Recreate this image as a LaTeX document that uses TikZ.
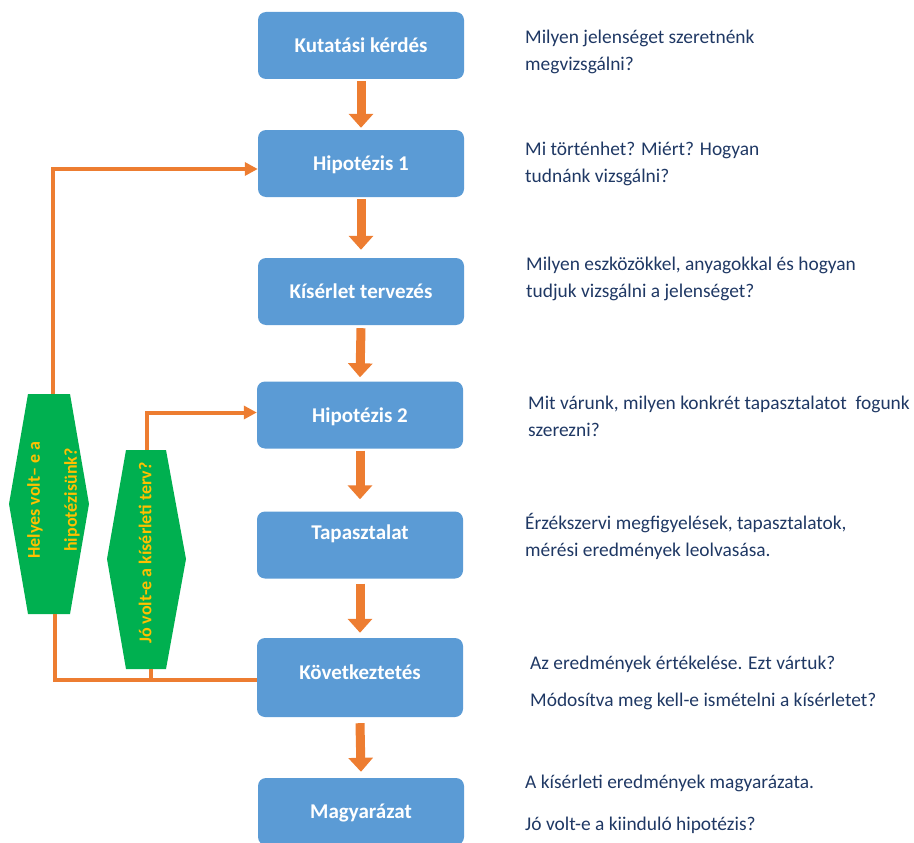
\documentclass[tikz,border=0pt]{standalone}
\usepackage{fontspec}
\setmainfont{Carlito}
\usetikzlibrary{arrows.meta}
\definecolor{boxblue}{HTML}{5B9BD5}
\definecolor{arrorange}{HTML}{ED7D31}
\definecolor{hexgreen}{HTML}{00B050}
\definecolor{hexgold}{HTML}{FFC000}
\definecolor{navy}{HTML}{1F3864}
\begin{document}
\begin{tikzpicture}[x=1pt,y=-1pt,
  stepbox/.style={fill=boxblue, rounded corners=8pt, minimum width=206pt, minimum height=67pt,
    inner sep=0pt, text=white, font=\fontsize{21}{24}\selectfont\bfseries, text height=14pt, text depth=0pt},
  blockarrow/.style={draw=arrorange, line width=9pt, -{Triangle[width=24pt,length=14pt]}},
  fbline/.style={draw=arrorange, line width=4pt},
  fbarrow/.style={fbline, -{Triangle[width=13pt,length=13pt]}},
  note/.style={anchor=west, align=left, text=navy, font=\fontsize{19.4}{27}\selectfont, inner sep=0pt},
  hexshape/.style={fill=hexgreen},
  hextext/.style={text=hexgold, font=\fontsize{18}{37}\selectfont\bfseries, rotate=90, align=center, inner sep=0pt}
]
\useasboundingbox (0,0) rectangle (914,843);
\clip (0,0) rectangle (914,843);

% main boxes
\node[stepbox] (k1) at (361,45.5) {Kutatási kérdés};
\node[stepbox] (h1) at (361,163.5) {Hipotézis 1};
\node[stepbox] (kt) at (361,291.5) {Kísérlet tervezés};
\node[stepbox] (h2) at (360,415) {Hipotézis 2};
\node[stepbox, text depth=26pt] (t) at (360,545) {Tapasztalat};
\node[stepbox, minimum height=79pt, text depth=11pt] (ko) at (360,677.5) {Következtetés};
\node[stepbox] (m) at (361,811.5) {Magyarázat};

% block arrows
\draw[blockarrow] ([yshift=-2pt]k1.south) -- ([yshift=2pt]h1.north);
\draw[blockarrow] ([yshift=-2pt]h1.south) -- ([yshift=8pt]kt.north);
\draw[blockarrow] ([yshift=-3pt]kt.south) -- ([yshift=4pt]h2.north);
\draw[blockarrow] ([yshift=-2pt]h2.south) -- ([yshift=12pt]t.north);
\draw[blockarrow] ([yshift=-5pt]t.south) -- ([yshift=5pt]ko.north);
\draw[blockarrow] ([yshift=-6pt]ko.south) -- ([yshift=6pt]m.north);

% hexagons
\fill[hexshape] (28,394) -- (70,394) -- (89,504) -- (70,614) -- (28,614) -- (9,504) -- cycle;
\node[hextext] (hx1) at (53.5,500) {Helyes volt– e a\\hipotézisünk?};
\fill[hexshape] (126,450) -- (166,450) -- (186,559) -- (166,669) -- (126,669) -- (107,559) -- cycle;
\node[hextext] (hx2) at (145,553) {Jó volt-e a kísérleti terv?};

\coordinate (hx1top) at (53,394);
\coordinate (hx1bot) at (55,614);
\coordinate (hx2top) at (147,450);
\coordinate (hx2bot) at (151,669);
\coordinate (kojoin) at ([yshift=-2.5pt]ko.west);

% feedback connectors
\draw[fbarrow] (hx1top) |- ([yshift=-5.5pt]h1.west);
\draw[fbarrow] (hx2top) |- ([yshift=2.5pt]h2.west);
\draw[fbline] (kojoin) -| (hx1bot);
\draw[fbline] (hx2bot) -- (hx2bot |- kojoin);

% notes
\node[note] (n1) at (525,51.5) {Milyen jelenséget szeretnénk\\megvizsgálni?};
\node[note] (n2) at (525,163.5) {Mi történhet? Miért? Hogyan\\tudnánk vizsgálni?};
\node[note] (n3) at (526,279) {Milyen eszközökkel, anyagokkal és hogyan\\tudjuk vizsgálni a jelenséget?};
\node[note] (n4) at (528,416.5) {Mit várunk, milyen konkrét tapasztalatot \ fogunk\\szerezni?};
\node[note] (n5) at (525,536) {Érzékszervi megfigyelések, tapasztalatok,\\mérési eredmények leolvasása.};
\node[note] (n6) at (530,682.5) {Az eredmények értékelése. Ezt vártuk?\\[10pt]Módosítva meg kell-e ismételni a kísérletet?};
\node[note] (n7) at (525,804) {A kísérleti eredmények magyarázata.\\[15pt]Jó volt-e a kiinduló hipotézis?};
\end{tikzpicture}
\end{document}
